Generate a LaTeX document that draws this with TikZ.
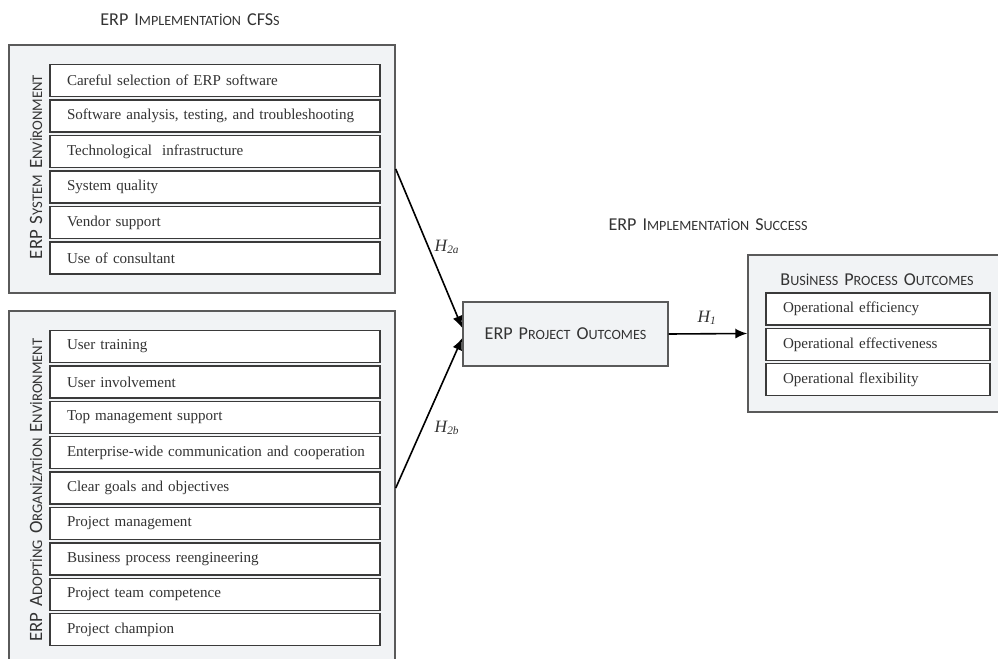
\documentclass[tikz,border=0pt]{standalone}
\usepackage{fontspec}
\setmainfont{Liberation Serif}
\newfontfamily\calfont{Carlito}
\usetikzlibrary{arrows.meta}
\definecolor{outerfill}{HTML}{F1F3F5}
\definecolor{outerdraw}{HTML}{5A5A5A}
\definecolor{innerdraw}{HTML}{3A3A3A}
\definecolor{txt}{HTML}{333333}
\newcommand\Lc[1]{{\fontsize{13.6}{15}\selectfont #1}}
\newcommand\Sc[1]{{\fontsize{10.6}{12}\selectfont #1}}
\newcommand\Lv[1]{{\fontsize{14.1}{16}\selectfont #1}}
\newcommand\Sv[1]{{\fontsize{11}{13}\selectfont #1}}
\newcommand\wsp{\hspace{0.45em}}
\tikzset{
  outerbox/.style={draw=outerdraw, fill=outerfill, line width=1.1pt, inner sep=0pt},
  itembox/.style={draw=innerdraw, fill=white, line width=1.1pt, inner sep=0pt,
    minimum height=24pt, text=txt, font=\fontsize{11.3}{13}\selectfont,
    align=left, text width=#1, inner xsep=12.75pt},
  itembox/.default=222pt,
  lbl/.style={text=txt, font=\calfont, inner sep=0pt},
  arr/.style={line width=1.2pt, -{Latex[length=9pt,width=7.5pt]}},
  hyp/.style={font=\fontsize{13}{15}\selectfont\itshape, text=txt, inner sep=0pt}
}
\begin{document}
\begin{tikzpicture}[x=0.75pt,y=-0.75pt]
\useasboundingbox (0,0) rectangle (998,659);
% titles
\node[lbl] (t1) at (190,20) {\Lc{ERP}\wsp\Lc{I}\Sc{MPLEMENTATİON}\wsp\Lc{CFS}\Sc{S}};
\node[lbl] (t2) at (708,225) {\Lc{ERP}\wsp\Lc{I}\Sc{MPLEMENTATİON}\wsp\Lc{S}\Sc{UCCESS}};
% outer boxes
\node[outerbox, minimum width=289.5pt, minimum height=186pt] (sys) at (202,169) {};
\node[outerbox, minimum width=289.5pt, minimum height=265.5pt] (org) at (202,488) {};
\node[outerbox, minimum width=190.5pt, minimum height=117.75pt] (bpo) at (875,333.5) {};
\node[outerbox, minimum width=153.75pt, minimum height=48pt] (proj) at (565.5,334)
  {\calfont\textcolor{txt}{\Lc{ERP}\wsp\Lc{P}\Sc{ROJECT}\wsp\Lc{O}\Sc{UTCOMES}}};
% vertical labels
\node[lbl, rotate=90] (sysl) at (36,167) {\Lv{ERP}\wsp\Lv{S}\Sv{YSTEM}\wsp\Lv{E}\Sv{NVİRONMENT}};
\node[lbl, rotate=90] (orgl) at (36,490) {\Lv{ERP}\wsp\Lv{A}\Sv{DOPTİNG}\wsp\Lv{O}\Sv{RGANİZATİON}\wsp\Lv{E}\Sv{NVİRONMENT}};
% system items
\node[itembox] (s1) at (215,80.5) {Careful selection of ERP software};
\node[itembox] (s2) at (215,116) {\mbox{Software analysis, testing, and troubleshooting}};
\node[itembox] (s3) at (215,151.5) {Technological\ \ infrastructure};
\node[itembox] (s4) at (215,187) {System quality};
\node[itembox] (s5) at (215,222.5) {Vendor support};
\node[itembox] (s6) at (215,258) {Use of consultant};
% organization items
\node[itembox] (o1) at (215,346.5) {User training};
\node[itembox] (o2) at (215,381.9) {User involvement};
\node[itembox] (o3) at (215,417.3) {Top management support};
\node[itembox] (o4) at (215,452.7) {\mbox{Enterprise-wide communication and cooperation}};
\node[itembox] (o5) at (215,488.1) {Clear goals and objectives};
\node[itembox] (o6) at (215,523.5) {Project management};
\node[itembox] (o7) at (215,558.9) {Business process reengineering};
\node[itembox] (o8) at (215,594.3) {Project team competence};
\node[itembox] (o9) at (215,629.7) {Project champion};
% business outcomes
\node[lbl] (bpot) at (877,280) {\Lc{B}\Sc{USİNESS}\wsp\Lc{P}\Sc{ROCESS}\wsp\Lc{O}\Sc{UTCOMES}};
\node[itembox=142.5pt] (b1) at (878,309) {Operational efficiency};
\node[itembox=142.5pt] (b2) at (878,344.5) {Operational effectiveness};
\node[itembox=142.5pt] (b3) at (878,379.5) {Operational flexibility};
% arrows
\draw[arr] (sys.east) -- ([yshift=4.5pt]proj.west);
\draw[arr] (org.east) -- ([yshift=-3pt]proj.west);
\draw[arr] (proj.east) -- (bpo.west);
\node[hyp] (h2a) at (447,247) {H\textsubscript{\fontsize{8.5}{9}\selectfont 2a}};
\node[hyp] (h2b) at (447,428) {H\textsubscript{\fontsize{8.5}{9}\selectfont 2b}};
\node[hyp] (h1) at (707,318) {H\textsubscript{\fontsize{8.5}{9}\selectfont 1}};
\end{tikzpicture}
\end{document}
